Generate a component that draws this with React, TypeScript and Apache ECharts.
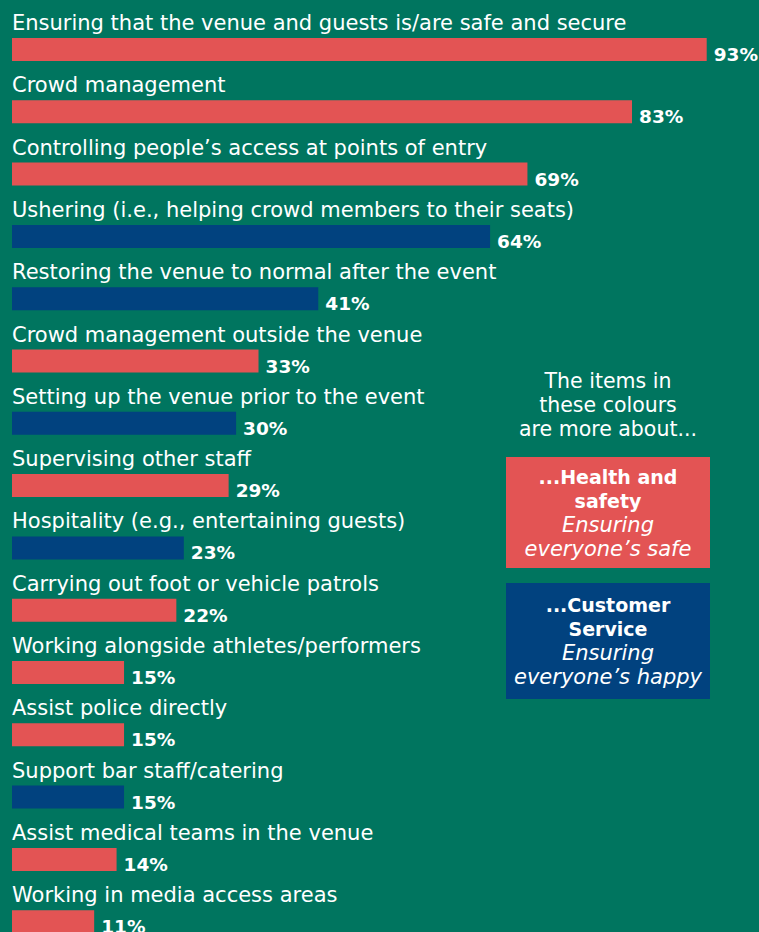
import React, { useEffect, useRef } from "react";
import * as echarts from "echarts";

const categories = [
  "Ensuring that the venue and guests is/are safe and secure",
  "Crowd management",
  "Controlling people’s access at points of entry",
  "Ushering (i.e., helping crowd members to their seats)",
  "Restoring the venue to normal after the event",
  "Crowd management outside the venue",
  "Setting up the venue prior to the event",
  "Supervising other staff",
  "Hospitality (e.g., entertaining guests)",
  "Carrying out foot or vehicle patrols",
  "Working alongside athletes/performers",
  "Assist police directly",
  "Support bar staff/catering",
  "Assist medical teams in the venue",
  "Working in media access areas",
];
const values = [93, 83, 69, 64, 41, 33, 30, 29, 23, 22, 15, 15, 15, 14, 11];
// "hs" = health and safety, "cs" = customer service
const groups = ["hs", "hs", "hs", "cs", "cs", "hs", "cs", "hs", "cs", "hs", "hs", "hs", "cs", "hs", "hs"];

const BG = "#00755F";
const RED = "#E35454";
const BLUE = "#01427F";
const FONT = "'DejaVu Sans', sans-serif";

export default function App() {
  const ref = useRef<HTMLDivElement>(null);
  useEffect(() => {
    if (!ref.current) return;
    const chart = echarts.init(ref.current, null, { renderer: "svg" });
    const colorOf = (g: string) => (g === "hs" ? RED : BLUE);
    chart.setOption({
      animation: false,
      backgroundColor: BG,
      grid: { left: 12, right: 0, top: 18.35, height: 934.5, containLabel: false },
      xAxis: { type: "value", min: 0, max: 100, show: false },
      yAxis: { type: "category", data: categories, inverse: true, show: false },
      series: [
        {
          type: "bar",
          barWidth: 23,
          data: values.map((v, i) => ({ value: v, itemStyle: { color: colorOf(groups[i]) } })),
          label: {
            show: true,
            position: "right",
            distance: 7,
            offset: [0, 5],
            formatter: "{c}%",
            color: "#fff",
            fontFamily: FONT,
            fontWeight: 700,
            fontSize: 18.5,
          },
          silent: true,
        },
        {
          type: "bar",
          barWidth: 23,
          barGap: "-100%",
          data: values,
          itemStyle: { color: "rgba(0,0,0,0)" },
          label: {
            show: true,
            position: [0, -15],
            align: "left",
            verticalAlign: "middle",
            formatter: "{b}",
            color: "#fff",
            fontFamily: FONT,
            fontWeight: 400,
            fontSize: 21,
          },
          silent: true,
        },
      ],
      graphic: [
        {
          type: "text",
          style: {
            text: "The items in\nthese colours\nare more about...",
            x: 608,
            y: 368.5,
            align: "center",
            verticalAlign: "top",
            fill: "#fff",
            fontFamily: FONT,
            fontSize: 20.5,
            lineHeight: 24,
          },
        },
        {
          type: "rect",
          shape: { x: 506, y: 457, width: 204, height: 111 },
          style: { fill: RED },
        },
        {
          type: "text",
          style: {
            text: "{b|...Health and}\n{b|safety}\n{i|Ensuring}\n{i|everyone’s safe}",
            x: 608,
            y: 512.5,
            align: "center",
            verticalAlign: "middle",
            fill: "#fff",
            fontFamily: FONT,
            fontSize: 19,
            lineHeight: 24,
            rich: {
              b: { fontFamily: FONT, fontWeight: 700, fontSize: 19, lineHeight: 24, fill: "#fff" },
              i: { fontFamily: FONT, fontStyle: "italic", fontSize: 21, lineHeight: 24, fill: "#fff" },
            },
          },
        },
        {
          type: "rect",
          shape: { x: 506, y: 583, width: 204, height: 116 },
          style: { fill: BLUE },
        },
        {
          type: "text",
          style: {
            text: "{b|...Customer}\n{b|Service}\n{i|Ensuring}\n{i|everyone’s happy}",
            x: 608,
            y: 641,
            align: "center",
            verticalAlign: "middle",
            fill: "#fff",
            fontFamily: FONT,
            fontSize: 19,
            lineHeight: 24,
            rich: {
              b: { fontFamily: FONT, fontWeight: 700, fontSize: 19, lineHeight: 24, fill: "#fff" },
              i: { fontFamily: FONT, fontStyle: "italic", fontSize: 21, lineHeight: 24, fill: "#fff" },
            },
          },
        },
      ],
    });
    return () => chart.dispose();
  }, []);
  return (
    <div style={{ position: "absolute", left: 0, top: 0, width: 759, height: 932, overflow: "hidden" }}>
      <div ref={ref} style={{ width: 759, height: 960 }} />
    </div>
  );
}
